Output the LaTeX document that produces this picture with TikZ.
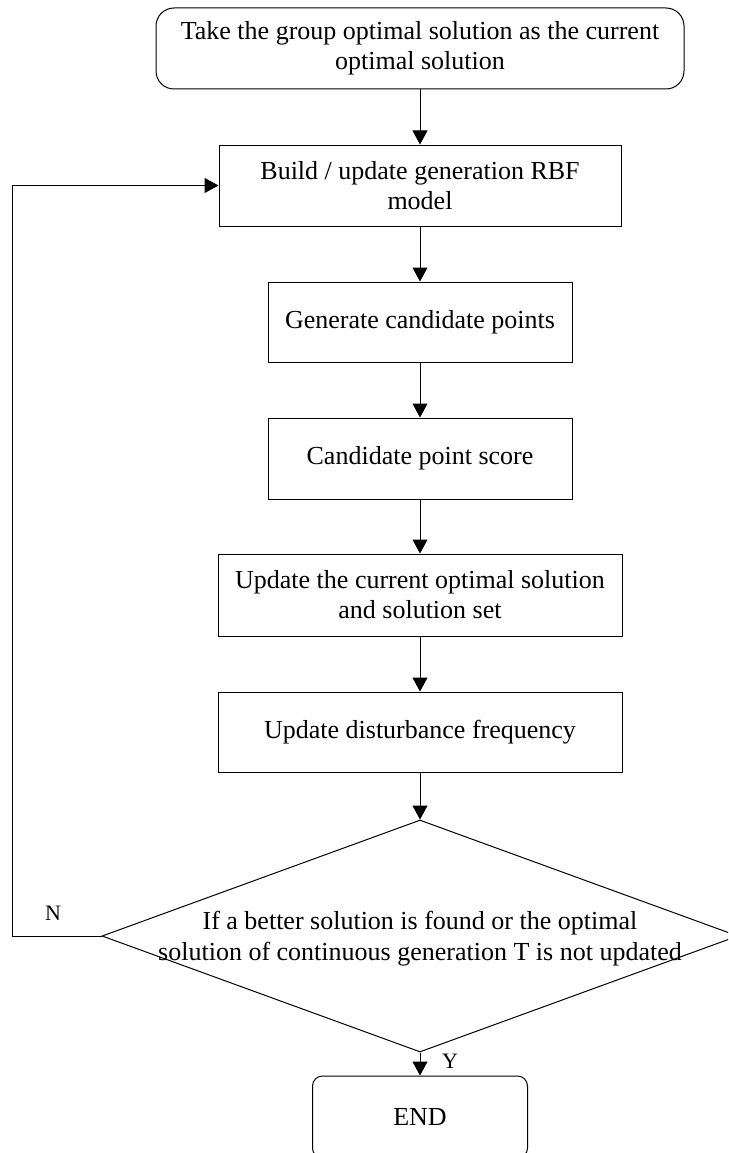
\documentclass[tikz,border=0pt]{standalone}
\usepackage{fontspec}
\setmainfont{Liberation Serif}
\usetikzlibrary{shapes.geometric,arrows.meta}
\begin{document}
\begin{tikzpicture}[x=1pt,y=-1pt,
  box/.style={draw,line width=1pt,rectangle,inner sep=0pt,align=center,font=\fontsize{26}{30}\selectfont},
  rbox/.style={box,rounded corners=18pt},
  arr/.style={line width=1pt,-{Triangle[length=14pt,width=15pt]}},
  lbl/.style={font=\fontsize{22}{26}\selectfont,inner sep=0pt}]
\useasboundingbox (0,0) rectangle (728,1153);
\clip (0,0) rectangle (728,1153);
\node[rbox,minimum width=528pt,minimum height=81pt] (top) at (420,48.5) {Take the group optimal solution as the current\\optimal solution};
\node[box,minimum width=402pt,minimum height=81pt] (build) at (420,185.5) {Build / update generation RBF\\model};
\node[box,minimum width=304pt,minimum height=80pt] (gen) at (420,322) {Generate candidate points};
\node[box,minimum width=304pt,minimum height=81pt] (score) at (420,458.5) {Candidate point score};
\node[box,minimum width=404pt,minimum height=82pt] (upd) at (420,595) {Update the current optimal solution\\and solution set};
\node[box,minimum width=404pt,minimum height=80pt] (dist) at (420,732) {Update disturbance frequency};
\node[draw,line width=1pt,diamond,inner sep=0pt,minimum width=636pt,minimum height=232pt] (dec) at (420,936) {};
\node[align=center,inner sep=0pt,font=\fontsize{26}{31}\selectfont] (dectext) at (420,939) {If a better solution is found or the optimal\\solution of continuous generation T is not updated};
\node[box,rounded corners=10pt,minimum width=215pt,minimum height=82pt] (end) at (420,1117) {END};
\coordinate (lp) at (12.5,936);
\draw[arr] (top) -- (build);
\draw[arr] (build) -- (gen);
\draw[arr] (gen) -- (score);
\draw[arr] (score) -- (upd);
\draw[arr] (upd) -- (dist);
\draw[arr] (dist) -- (dec.north);
\draw[arr] (dec.south) -- (end);
\draw[arr] (dec.west) -- (lp) |- (build.west);
\node[lbl] (nlab) at (53,913) {N};
\node[lbl] (ylab) at (450,1061) {Y};
\end{tikzpicture}
\end{document}
